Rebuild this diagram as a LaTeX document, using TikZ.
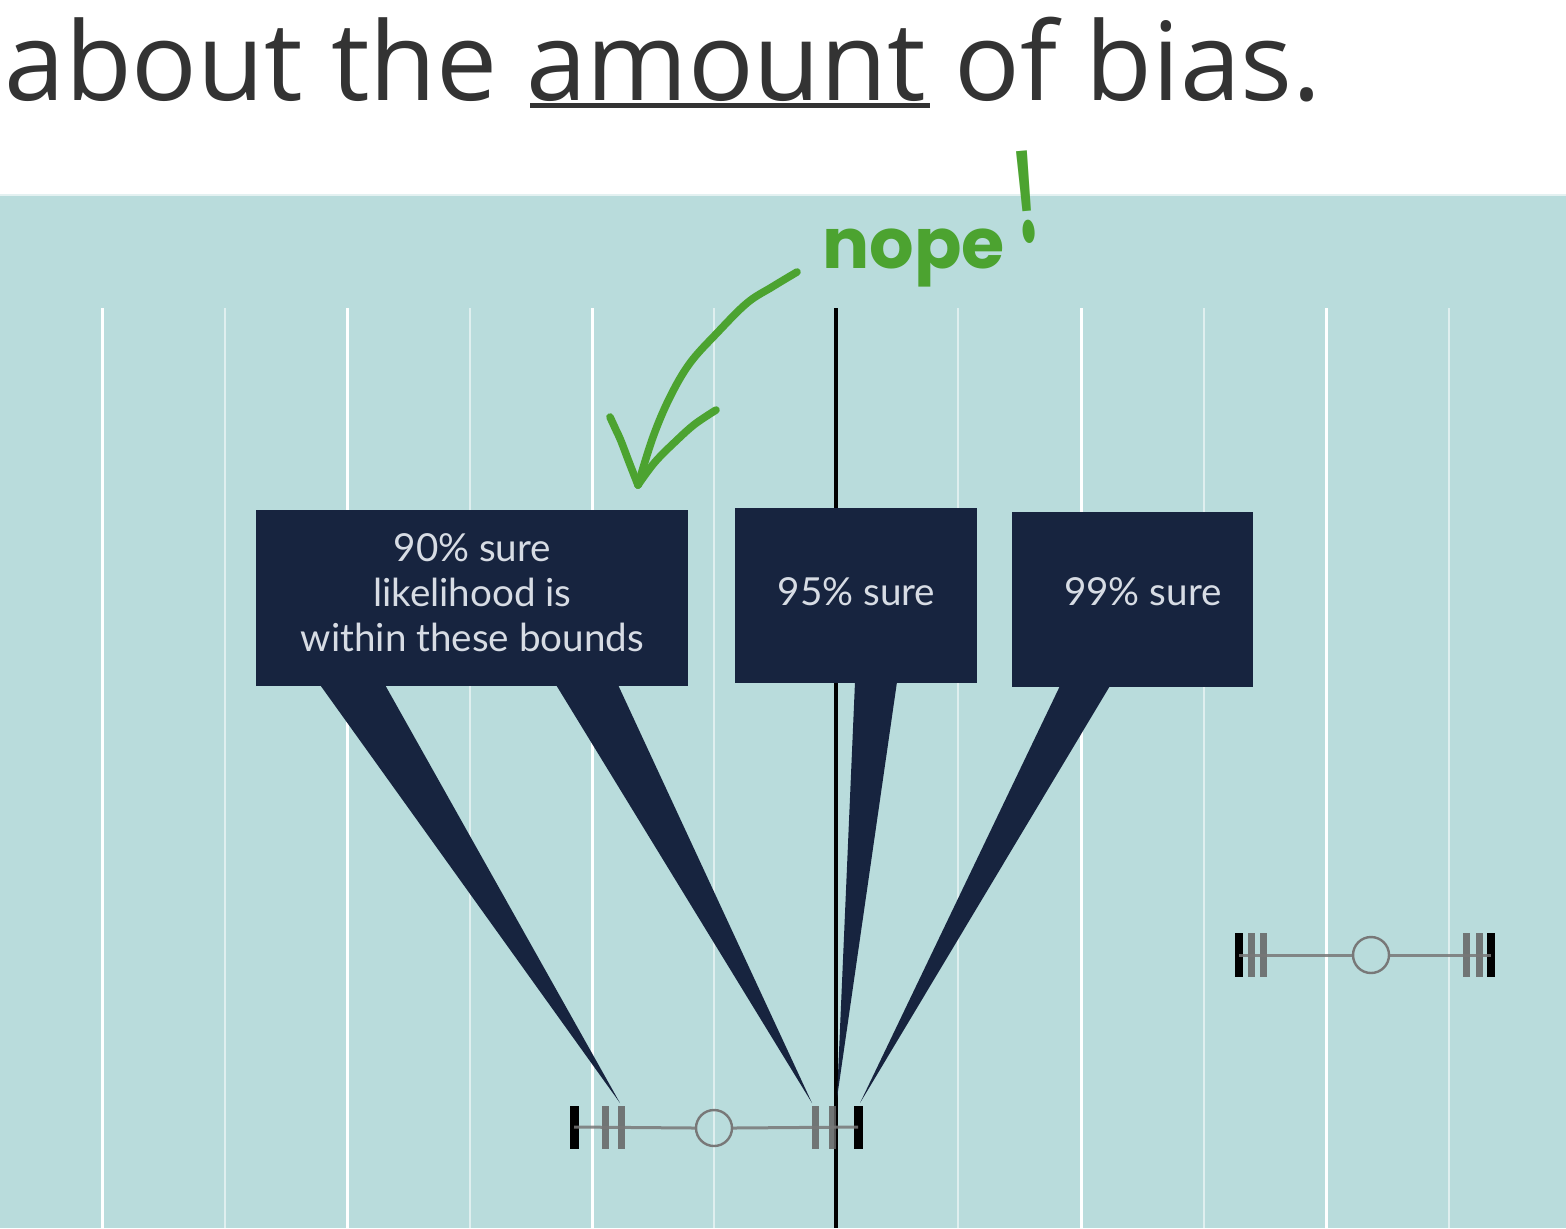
\documentclass[tikz,border=0pt]{standalone}
\usepackage{fontspec}
\setmainfont{Open Sans}
\newfontfamily\boxfont{Lato}
\newfontfamily\penfont{Poppins}
\usetikzlibrary{calc}
\definecolor{bgteal}{RGB}{185,220,220}
\definecolor{navy}{RGB}{23,36,63}
\definecolor{pen}{RGB}{76,163,48}
\definecolor{hdr}{RGB}{51,51,51}
\definecolor{boxtxt}{RGB}{215,220,228}
\definecolor{tickgrey}{RGB}{100,100,100}
\definecolor{bargrey}{RGB}{120,120,120}
\begin{document}
\begin{tikzpicture}[x=0.5pt,y=-0.5pt,
  major/.style={draw=white,line width=1.5pt},
  minor/.style={draw=white!55!bgteal,line width=1pt},
  callout/.style={fill=navy,draw=none,inner sep=0pt,anchor=north west},
  boxtext/.style={text=boxtxt,inner sep=0pt,
    font=\boxfont\fontsize{19.3}{22.5}\selectfont,align=center},
  tail/.style={fill=navy},
  tickblk/.style={fill=black,inner sep=0pt,minimum width=4.5pt,minimum height=21.5pt},
  tickgry/.style={fill=tickgrey,fill opacity=0.85,inner sep=0pt,minimum width=3.5pt,minimum height=21.5pt},
  barline/.style={draw=bargrey,line width=1.5pt},
  mid/.style={circle,draw=bargrey,line width=1.2pt,minimum size=18pt,inner sep=0pt},
  ink/.style={draw=pen,line width=3.8pt,line cap=round,line join=round}
]
\useasboundingbox (0,0) rectangle (1566,1228);
\fill[white] (0,0) rectangle (1566,195);
\fill[bgteal] (0,195) rectangle (1566,1228);
\draw[white!60!bgteal,line width=1pt] (0,195) -- (1566,195);

% header
\node[anchor=base west,text=hdr,inner sep=0pt,font=\fontsize{54.5}{60}\selectfont] (hdr) at (4,100) {about the amount of bias.};
\fill[hdr] (530,103) rectangle (930,108);

% grid
\foreach \x in {102,347,592,1081,1326} \draw[major] (\x,308) -- (\x,1228);
\foreach \x in {225,470,714,958,1204,1449} \draw[minor] (\x,308) -- (\x,1228);
\draw[black,line width=2pt] (836,308) -- (836,1228);

% callout boxes
\node[callout,minimum width=216pt,minimum height=88pt] (b90) at (256,510) {};
\node[callout,minimum width=121pt,minimum height=87.5pt] (b95) at (735,508) {};
\node[callout,minimum width=120.5pt,minimum height=87.5pt] (b99) at (1012,512) {};
\node[boxtext] (b90t) at ($(b90.center)+(0,-6)$) {90\% sure\\likelihood is\\within these bounds};
\node[boxtext] (b95t) at ($(b95.center)+(0,-4)$) {95\% sure};
\node[boxtext] (b99t) at ($(b99.center)+(10,-8)$) {99\% sure};

% tail tips
\coordinate (t90a) at (620,1103);
\coordinate (t90b) at (812,1103);
\coordinate (t95) at (837,1098);
\coordinate (t99) at (860,1103);

\fill[tail] ($(b90.south west)+(64,-2)$) -- ($(b90.south west)+(129,-2)$) -- (t90a) -- cycle;
\fill[tail] ($(b90.south west)+(300,-2)$) -- ($(b90.south west)+(362,-2)$) -- (t90b) -- cycle;
\fill[tail] ($(b95.south west)+(120,-2)$) -- ($(b95.south west)+(162,-2)$) -- (t95) -- cycle;
\fill[tail] ($(b99.south west)+(48,-2)$) -- ($(b99.south west)+(98,-2)$) -- (t99) -- cycle;

% bottom error bar
\node[tickblk] (l1) at (574,1127) {};
\node[tickgry] (l2) at (605,1127) {};
\node[tickgry] (l3) at (621,1127) {};
\node[mid] (m1) at (714,1128) {};
\node[tickgry] (r3) at (815,1127) {};
\node[tickgry] (r2) at (832,1127) {};
\node[tickblk] (r1) at (858,1127) {};
\draw[barline,opacity=0.85] (l1.center) -- (m1.west) (m1.east) -- (r1.center);

% right error bar
\node[tickblk,minimum width=4pt,minimum height=22pt] (L1) at (1239,955) {};
\node[tickgry,minimum height=22pt] (L2) at (1251,955) {};
\node[tickgry,minimum height=22pt] (L3) at (1263,955) {};
\node[mid] (m2) at (1371,955) {};
\node[tickgry,minimum height=22pt] (R3) at (1466,955) {};
\node[tickgry,minimum height=22pt] (R2) at (1479,955) {};
\node[tickblk,minimum width=4pt,minimum height=22pt] (R1) at (1491,955) {};
\draw[barline,opacity=0.85] (L1.center) -- (m2.west) (m2.east) -- (R1.center);

% handwriting
\node[anchor=base west,text=pen,inner sep=0pt,font=\penfont\bfseries\fontsize{35}{35}\selectfont] (nope) at (822,268) {nope};
\node[anchor=base,text=pen,inner sep=0pt,rotate=5,font=\penfont\bfseries\fontsize{42}{42}\selectfont] (bang) at (1030,242) {\scalebox{0.7}[1.5]{!}};
\coordinate (arrowtail) at (797,272);
\coordinate (arrowtip) at (638,485);
\draw[ink] plot[smooth,tension=0.6] coordinates {(arrowtail) (772,287) (747,303) (717,333) (690,363) (670,397) (653,437) (arrowtip)};
\draw[ink] plot[smooth,tension=0.6] coordinates {(610,417) (616,430) (621,441) (629,462) (arrowtip)};
\draw[ink] plot[smooth,tension=0.6] coordinates {(716,410) (695,424) (677,440) (655,462) (arrowtip)};
\end{tikzpicture}
\end{document}
